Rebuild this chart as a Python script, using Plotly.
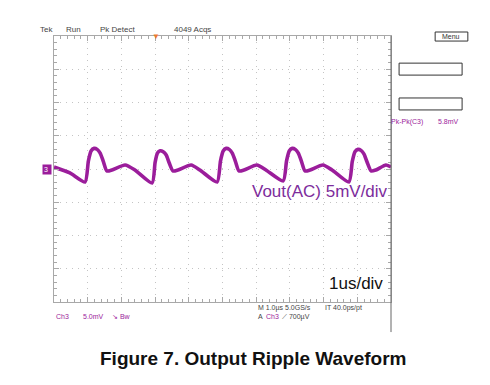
import plotly.graph_objects as go

# Time in microseconds (0..10 us, 1 us/div), voltage in mV (5 mV/div)
time_us = [0.00, 0.47, 0.92, 1.02, 1.10, 1.19, 1.28, 1.37, 1.46, 1.57, 1.72, 2.11, 2.40, 2.91,
           3.00, 3.07, 3.15, 3.24, 3.33, 3.42, 3.53, 3.68, 4.07, 4.33, 4.84,
           4.94, 5.02, 5.11, 5.20, 5.29, 5.38, 5.49, 5.64, 6.02, 6.29, 6.80,
           6.90, 6.98, 7.07, 7.16, 7.25, 7.34, 7.45, 7.60, 7.98, 8.25, 8.75,
           8.85, 8.93, 9.02, 9.11, 9.20, 9.29, 9.41, 9.55, 9.85, 10.00]
vout_mv = [0.30, -0.60, -1.96, 1.20, 2.70, 3.10, 2.95, 2.40, 1.20, -0.30, -0.15, 0.60, -0.15, -2.11,
           1.00, 2.40, 2.75, 2.60, 2.10, 0.90, -0.30, -0.15, 0.60, -0.15, -1.96,
           1.20, 2.70, 3.10, 2.95, 2.40, 1.20, -0.30, -0.15, 0.60, -0.15, -1.80,
           1.20, 2.70, 3.10, 2.95, 2.40, 1.20, -0.30, -0.15, 0.60, -0.15, -1.96,
           1.10, 2.60, 2.95, 2.80, 2.25, 1.05, -0.30, -0.15, 0.60, 0.30]

x_range = [0, 10]
y_range = [-20, 20]

PURPLE = "#9b1d9b"
GRID = "#c4c4c4"
FRAME = "#a8a8a8"

fig = go.Figure()
fig.add_trace(go.Scatter(x=time_us, y=vout_mv, mode="lines",
                         line=dict(color=PURPLE, width=3.6, shape="spline", smoothing=0.6),
                         hoverinfo="skip", showlegend=False))

axis_common = dict(showgrid=True, gridcolor=GRID, gridwidth=1, griddash="1px,5px",
                   showline=True, linecolor=FRAME, linewidth=1, mirror="ticks",
                   ticks="inside", ticklen=5, tickcolor=FRAME, showticklabels=False,
                   zeroline=False, fixedrange=True)

fig.update_xaxes(range=x_range, dtick=1, tick0=0,
                 minor=dict(dtick=0.2, ticks="inside", ticklen=3, tickcolor=FRAME, showgrid=False),
                 **axis_common)
fig.update_yaxes(range=y_range, dtick=5, tick0=0,
                 minor=dict(dtick=1, ticks="inside", ticklen=3, tickcolor=FRAME, showgrid=False),
                 **axis_common)

def ann(text, x, y, size=8, color="#444444", xanchor="left", yanchor="middle", family="Liberation Sans", **kw):
    fig.add_annotation(text=text, x=x, y=y, xref="paper", yref="paper", showarrow=False,
                       xanchor=xanchor, yanchor=yanchor,
                       font=dict(size=size, color=color, family=family), **kw)

# top status line
ann("Tek", -0.047, 1.023)
ann("Run", 0.030, 1.023)
ann("Pk Detect", 0.131, 1.023)
ann("4049 Acqs", 0.350, 1.023)
ann("▼", 0.303, 1.0, size=8, color="#f07a30", xanchor="center")

# Menu button
fig.add_shape(type="rect", xref="paper", yref="paper", x0=1.131, x1=1.228, y0=0.981, y1=1.015,
              line=dict(color="#333333", width=1))
ann("Menu", 1.179, 0.998, size=7, color="#333333", xanchor="center")

# measurement boxes
fig.add_shape(type="rect", xref="paper", yref="paper", x0=1.024, x1=1.211, y0=0.853, y1=0.898,
              line=dict(color="#333333", width=1))
fig.add_shape(type="rect", xref="paper", yref="paper", x0=1.024, x1=1.211, y0=0.722, y1=0.767,
              line=dict(color="#333333", width=1))
ann("Pk-Pk(C3)", 0.995, 0.677, size=7, color=PURPLE)
ann("5.8mV", 1.134, 0.677, size=7, color=PURPLE)

# right dark edge extending below the graticule
fig.add_shape(type="line", xref="paper", yref="paper", x0=1.0, x1=1.0, y0=-0.113, y1=1.0,
              line=dict(color="#666666", width=1))

# channel marker
ann("3 ", -0.022, 0.498, size=7, color="white", xanchor="center", bgcolor=PURPLE)

# bottom readouts
ann("Ch3", 0.0, -0.053, size=7, color=PURPLE)
ann("5.0mV", 0.080, -0.053, size=7, color=PURPLE)
ann("↘ Bw", 0.166, -0.053, size=7, color=PURPLE)
ann("M 1.0µs 5.0GS/s", 0.599, -0.023, size=7)
ann("IT 40.0ps/pt", 0.798, -0.023, size=7)
ann("A", 0.599, -0.056, size=7)
ann("Ch3", 0.623, -0.056, size=7, color=PURPLE)
ann("⟋ 700µV", 0.671, -0.056, size=7)

# labels
ann("Vout(AC) 5mV/div", 0.789, 0.414, size=17, color="#7d2c9c", xanchor="center")
ann("1us/div", 0.896, 0.071, size=17, color="#111111", xanchor="center")

# caption
ann("<b>Figure 7. Output Ripple Waveform</b>", 0.591, -0.211, size=19, color="#111111",
    xanchor="center", family="Liberation Sans, Arial")

# The page body has an 8px margin, so the figure is drawn 8px smaller and offset.
fig.update_layout(width=482, height=369, autosize=False,
                  margin=dict(l=46, r=99, t=28, b=75),
                  paper_bgcolor="white", plot_bgcolor="white")

fig.write_html("out.html", config={"displayModeBar": False})
